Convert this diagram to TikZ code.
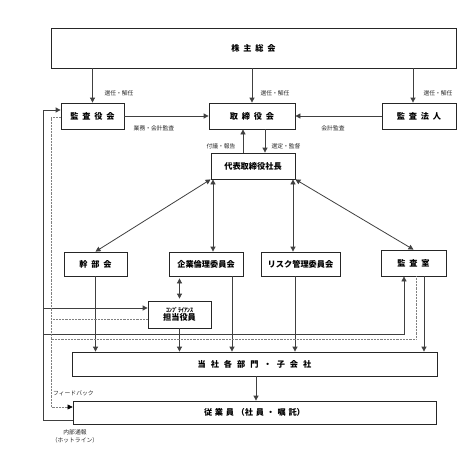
\documentclass[tikz,border=0pt]{standalone}
\usepackage{fontspec}
\setmainfont{Noto Sans CJK JP}
\usetikzlibrary{arrows.meta}
\newcommand\sg{\hspace{3.8pt}}
\newcommand\sgw{\hspace{5pt}}
\newcommand\sgs{\hspace{2.7pt}}
\begin{document}
\begin{tikzpicture}[x=1pt,y=-1pt,
 box/.style={draw=black!85, line width=0.8pt, fill=white, inner sep=0pt, font=\fontsize{8.2}{9.5}\selectfont\bfseries},
 lbl/.style={font=\fontsize{5.8}{6.5}\selectfont, inner sep=0pt, text=black!85},
 ln/.style={draw=black!75, line width=0.8pt},
 arr/.style={ln, -{Triangle[length=5pt,width=5pt]}},
 darr/.style={ln, {Triangle[length=5pt,width=5pt]}-{Triangle[length=5pt,width=5pt]}},
 dotl/.style={draw=black!50, line width=0.45pt, densely dotted},
]
\useasboundingbox[fill=white] (0,0) rectangle (467,467);
% nodes
\node[box, minimum width=405pt, minimum height=40pt] (kab) at (253.5,48) {株\sg 主\sg 総\sg 会};
\node[box, minimum width=63pt, minimum height=26pt] (ksy) at (92.5,116) {監\sg 査\sg 役\sg 会};
\node[box, minimum width=86pt, minimum height=26pt] (tor) at (252,116) {取\sg 締\sg 役\sg 会};
\node[box, minimum width=74pt, minimum height=26pt] (hj) at (419,116) {監\sg 査\sg 法\sg 人};
\node[box, minimum width=84pt, minimum height=26pt] (ceo) at (253,166) {代表取締役社長};
\node[box, minimum width=63pt, minimum height=24pt] (kanbu) at (95.5,264) {幹\sg 部\sg 会};
\node[box, minimum width=74pt, minimum height=24pt] (rinri) at (206,264) {企業倫理委員会};
\node[box, minimum width=79pt, minimum height=24pt] (risk) at (300.5,264) {リスク管理委員会};
\node[box, minimum width=65pt, minimum height=26pt] (ksh) at (413.5,263) {監\sg 査\sg 室};
\node[box, minimum width=63pt, minimum height=27pt, align=center] (comp) at (179.5,314.5) {{\fontsize{6}{7}\selectfont ｺﾝﾌﾟﾗｲｱﾝｽ}\\[-1pt]担当役員};
\node[box, minimum width=365pt, minimum height=24pt] (dept) at (254.5,364) {当\sgw 社\sgw 各\sgw 部\sgw 門\sgw ・\sgw 子\sgw 会\sgw 社};
\node[box, minimum width=363pt, minimum height=23pt] (emp) at (254.5,412.5) {従\sgs 業\sgs 員\sgs （社\sgs 員\sgs ・\sgs 嘱\sgs 託）};
% helper coordinates
\coordinate (x413) at (413,0);
\coordinate (x243) at (243,0);
\coordinate (x265) at (265,0);
\coordinate (x213) at (213,0);
\coordinate (x293) at (293,0);
\coordinate (x232) at (232,0);
\coordinate (x295) at (295,0);
\coordinate (x424) at (424,0);
\coordinate (x256) at (256,0);
\coordinate (x404) at (404,0);
\coordinate (x416) at (416,0);
\coordinate (hl) at (43,0);
\coordinate (fb) at (51,0);
\coordinate (y110) at (0,110);
\coordinate (y117) at (0,117);
\coordinate (y308) at (0,308);
\coordinate (y319) at (0,319);
\coordinate (y334) at (0,334);
\coordinate (y339) at (0,339);
\coordinate (y407) at (0,407);
\coordinate (y420) at (0,420);
% top arrows
\draw[arr] (kab.south -| ksy.north) -- (ksy.north);
\draw[arr] (kab.south -| tor.north) -- (tor.north);
\draw[arr] (kab.south -| x413) -- (hj.north -| x413);
\draw[arr] (ksy) -- (tor);
\draw[arr] (hj) -- (tor);
\draw[arr] (ceo.north -| x243) -- (tor.south -| x243);
\draw[arr] (tor.south -| x265) -- (ceo.north -| x265);
% double arrows
\draw[darr] (ceo.south west) -- (kanbu.north);
\draw[darr] (ceo.south -| x213) -- (rinri.north -| x213);
\draw[darr] (ceo.south -| x293) -- (risk.north -| x293);
\draw[darr] (ceo.south east) -- (ksh.north);
\draw[darr, shorten <=2pt, shorten >=2pt] (rinri.south -| comp.north) -- (comp.north);
% down to departments
\draw[arr] (kanbu.south) -- (dept.north -| kanbu.south);
\draw[arr] (comp.south) -- (dept.north -| comp.south);
\draw[arr] (rinri.south -| x232) -- (dept.north -| x232);
\draw[arr] (risk.south -| x295) -- (dept.north -| x295);
\draw[arr] (ksh.south -| x424) -- (dept.north -| x424);
\draw[arr] (dept.south -| x256) -- (emp.north -| x256);
% hotline
\draw[arr] (emp.west |- y420) -- (hl |- y420) -- (hl |- y110) -- (ksy.west |- y110);
\draw[arr] (hl |- y308) -- (comp.west |- y308);
\draw[arr] (hl |- y334) -- (x404 |- y334) -- (ksh.south -| x404);
% feedback
\draw[dotl, -{Triangle[length=5pt,width=5pt,color=black]}] (ksy.west |- y117) -- (fb |- y117) -- (fb |- y407) -- (emp.west |- y407);
\draw[dotl] (comp.west |- y319) -- (fb |- y319);
\draw[dotl] (ksh.south -| x416) -- (x416 |- y339) -- (fb |- y339);
% labels
\node[lbl] (l1) at (119,93) {選任・解任};
\node[lbl] (l2) at (275,93) {選任・解任};
\node[lbl] (l3) at (438,93) {選任・解任};
\node[lbl] (l4) at (154,128) {業務・会計監査};
\node[lbl] (l5) at (333,128) {会計監査};
\node[lbl] (l6) at (221,146) {付議・報告};
\node[lbl] (l7) at (286,146) {選定・監督};
\node[lbl, anchor=west] (l8) at (53,393) {フィードバック};
\node[lbl] (l9) at (75,432) {内部通報};
\node[lbl] (l10) at (75,440) {（ホットライン）};
\end{tikzpicture}
\end{document}
